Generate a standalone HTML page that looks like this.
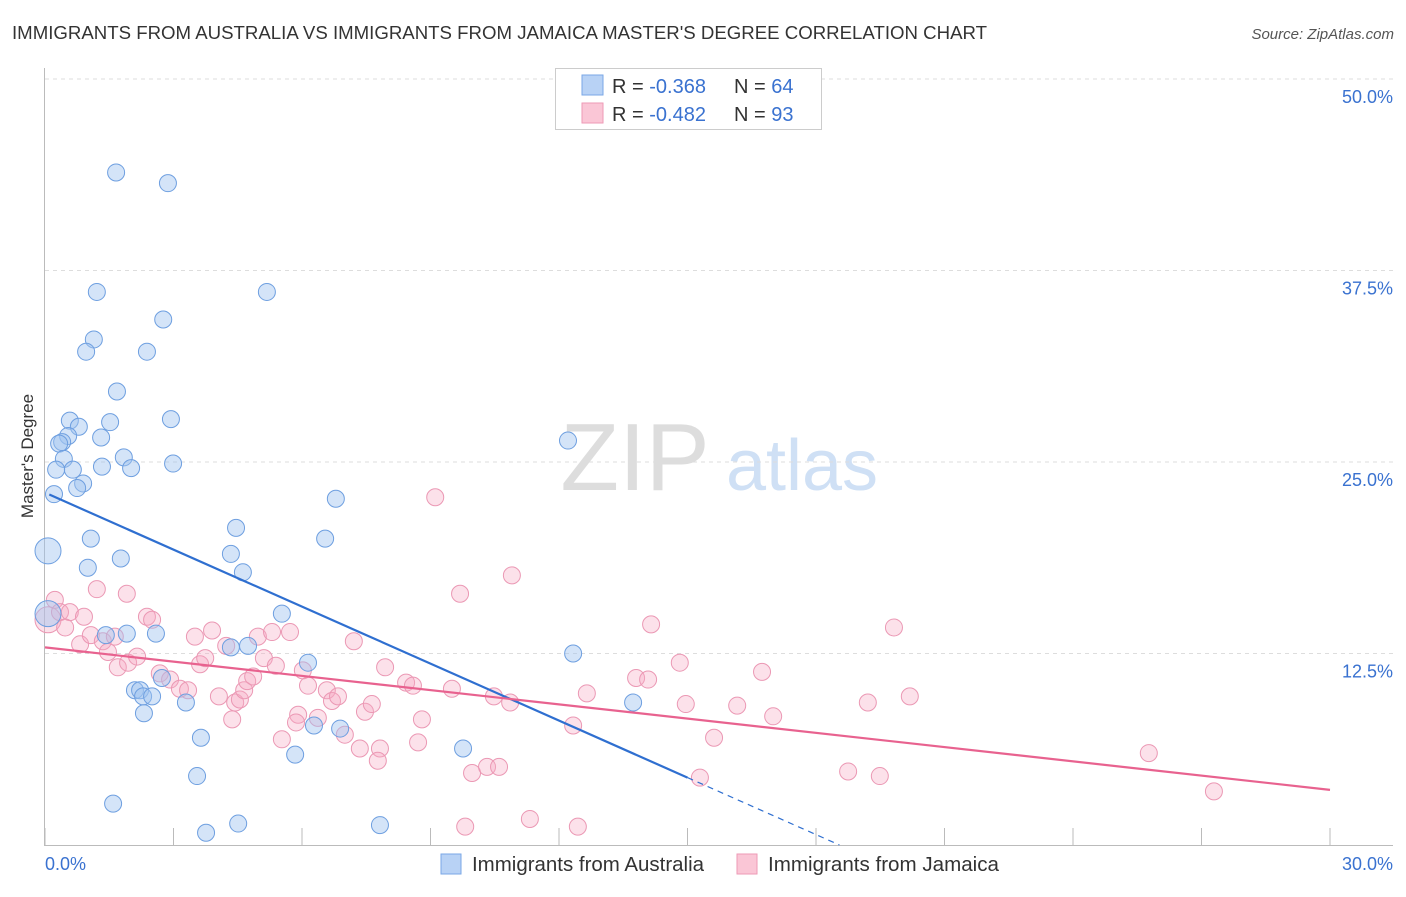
<!DOCTYPE html>
<html><head><meta charset="utf-8"><style>
body{margin:0;background:#fff;font-family:"Liberation Sans",sans-serif;}
svg text{font-family:"Liberation Sans",sans-serif;}
</style></head><body>
<svg id="c" width="1406" height="892">
<text x="12" y="39" font-size="18" fill="#333" textLength="975" lengthAdjust="spacingAndGlyphs">IMMIGRANTS FROM AUSTRALIA VS IMMIGRANTS FROM JAMAICA MASTER'S DEGREE CORRELATION CHART</text>
<text x="1394" y="39" font-size="15" fill="#555" font-style="italic" text-anchor="end">Source: ZipAtlas.com</text>
<text x="33" y="456" font-size="17" fill="#333" text-anchor="middle" transform="rotate(-90 33 456)">Master's Degree</text>
<g><text x="635" y="490" font-size="96" fill="#ddd" font-family="Liberation Serif" text-anchor="middle">ZIP</text><text x="802" y="490" font-size="72" fill="#cfe0f5" text-anchor="middle">atlas</text></g>
<g id="grid"></g><g id="marks"></g>
<g>
<rect x="555.5" y="68.5" width="266" height="61" fill="#fff" stroke="#ccc"/>
<rect x="582" y="75" width="21" height="20" fill="#b8d2f5" stroke="#7aa7e6"/>
<rect x="582" y="103" width="21" height="20" fill="#fac6d6" stroke="#ee9ab6"/>
<text x="612" y="93" font-size="20" fill="#333">R = <tspan fill="#3a72d0">-0.368</tspan></text>
<text x="734" y="93" font-size="20" fill="#333">N = <tspan fill="#3a72d0">64</tspan></text>
<text x="612" y="121" font-size="20" fill="#333">R = <tspan fill="#3a72d0">-0.482</tspan></text>
<text x="734" y="121" font-size="20" fill="#333">N = <tspan fill="#3a72d0">93</tspan></text>
</g>
<g>
<rect x="441" y="854" width="20" height="20" fill="#b8d2f5" stroke="#7aa7e6"/>
<text x="472" y="871" font-size="20" fill="#333" textLength="232" lengthAdjust="spacingAndGlyphs">Immigrants from Australia</text>
<rect x="737" y="854" width="20" height="20" fill="#fac6d6" stroke="#ee9ab6"/>
<text x="768" y="871" font-size="20" fill="#333" textLength="231" lengthAdjust="spacingAndGlyphs">Immigrants from Jamaica</text>
</g>
</svg>
<script>
const xTicks=[0,3,6,9,12,15,18,21,24,27,30];
const yTicks=[12.5,25,37.5,50];
const yTickLabels=["12.5%","25.0%","37.5%","50.0%"];
const xEndLabels=["0.0%","30.0%"];
const ausX=[1.66,2.87,1.21,5.18,2.76,1.14,0.96,2.38,1.68,2.94,0.58,1.52,0.79,0.54,1.31,0.40,0.33,1.84,0.44,2.99,1.33,0.65,2.01,0.26,0.89,0.75,0.21,6.79,12.21,4.46,1.07,6.54,0.07,4.34,1.77,1.0,4.62,5.53,1.91,2.59,1.42,4.74,4.34,6.14,12.33,2.73,2.10,2.22,2.29,2.50,3.29,13.73,2.31,6.89,6.28,3.64,9.76,5.84,3.55,1.59,4.51,3.76,7.82,0.07];
const ausY=[43.9,43.2,36.1,36.1,34.3,33.0,32.2,32.2,29.6,27.8,27.7,27.6,27.3,26.7,26.6,26.3,26.2,25.3,25.2,24.9,24.7,24.5,24.6,24.5,23.6,23.3,22.9,22.6,26.4,20.7,20.0,20.0,19.2,19.0,18.7,18.1,17.8,15.1,13.8,13.8,13.7,13.0,12.9,11.9,12.5,10.9,10.1,10.1,9.7,9.7,9.3,9.3,8.6,7.6,7.8,7.0,6.3,5.9,4.5,2.7,1.4,0.8,1.3,15.1];
const jamX=[0.07,0.23,0.35,0.58,0.47,0.91,1.21,1.91,0.82,1.07,1.35,1.47,1.63,1.70,1.94,2.15,2.38,2.50,2.68,2.92,3.15,3.34,3.50,3.62,3.74,3.90,4.06,4.23,4.37,4.44,4.55,4.65,4.72,4.86,4.97,5.11,5.30,5.39,5.72,5.53,5.91,6.02,6.14,5.86,6.37,6.58,6.70,6.84,7.00,7.21,7.35,7.47,7.63,7.82,7.77,7.94,8.43,8.59,8.71,8.80,9.11,9.50,9.69,9.81,9.97,10.32,10.60,10.90,10.48,10.86,11.32,12.33,12.44,12.65,13.80,14.08,14.15,14.82,14.96,15.29,15.62,16.16,16.74,17.00,18.75,19.21,19.49,19.82,20.19,25.77,27.29];
const jamY=[14.7,16.0,15.2,15.2,14.2,14.9,16.7,16.4,13.1,13.7,13.3,12.6,13.6,11.6,11.9,12.3,14.9,14.7,11.2,10.8,10.2,10.1,13.6,11.8,12.2,14.0,9.7,13.0,8.2,9.3,9.5,10.1,10.7,11.0,13.6,12.2,13.9,11.7,13.9,6.9,8.5,11.4,10.4,8.0,8.3,10.1,9.4,9.7,7.2,13.3,6.3,8.7,9.2,6.3,5.5,11.6,10.6,10.4,6.7,8.2,22.7,10.2,16.4,1.2,4.7,5.1,5.1,17.6,9.7,9.3,1.7,7.8,1.2,9.9,10.9,10.8,14.4,11.9,9.2,4.4,7.0,9.1,11.3,8.4,4.8,9.3,4.5,14.2,9.7,6.0,3.5];
const ausTrend=[23.0,-1.24];  // intercept, slope
const jamTrend=[12.9,-0.31];
const X=v=>45+v/30*1285, Y=v=>845-v*15.32;
const NS="http://www.w3.org/2000/svg";
function mk(parent,tag,attrs){const e=document.createElementNS(NS,tag);for(const k in attrs)e.setAttribute(k,attrs[k]);parent.appendChild(e);return e;}
const g=document.getElementById('grid'), m=document.getElementById('marks');
yTicks.forEach((t,i)=>{
 const l=mk(g,'line',{x1:45,x2:1393,y1:Y(t),y2:Y(t),stroke:'#ddd','stroke-dasharray':'4,4'});
 
 
 const tx=mk(g,'text',{x:1393,y:Y(t)+24,'font-size':18,fill:'#3a72d0','text-anchor':'end'});
 tx.textContent=yTickLabels[i];
 
 
});
const ax=mk(g,'line',{x1:44.5,x2:44.5,y1:68,y2:845.5,stroke:'#bbb'});


const bx=mk(g,'line',{x1:44,x2:1393,y1:845.5,y2:845.5,stroke:'#bbb'});


xTicks.forEach(t=>{const l=mk(g,'line',{x1:X(t),x2:X(t),y1:828,y2:845,stroke:'#bbb'});
 
 });
[[0,'start',45],[30,'end',1393]].forEach((d,i)=>{const t=mk(g,'text',{x:d[2],y:870,'font-size':18,fill:'#3a72d0','text-anchor':d[1]});t.textContent=xEndLabels[i];
 
 });
function dots(xs,ys,fill,stroke,name){xs.forEach((x,i)=>{
 const big=(x<0.1);
 const c=mk(m,'circle',{cx:X(x),cy:Y(ys[i]),r:big?13:8.5,fill:fill,stroke:stroke,'stroke-width':1});
 
 });}
dots(jamX,jamY,'rgba(246,170,196,0.35)','#eb98b4','jamaica-point');
dots(ausX,ausY,'rgba(160,196,240,0.45)','#6e9fe0','australia-point');
const bEnd=15, bZero=-ausTrend[0]/ausTrend[1];
const l1=mk(m,'line',{x1:X(0.1),y1:Y(ausTrend[0]+ausTrend[1]*0.1),x2:X(bEnd),y2:Y(ausTrend[0]+ausTrend[1]*bEnd),stroke:'#2f6fd0','stroke-width':2.2});


const l2=mk(m,'line',{x1:X(bEnd),y1:Y(ausTrend[0]+ausTrend[1]*bEnd),x2:X(bZero),y2:Y(0),stroke:'#2f6fd0','stroke-width':1.2,'stroke-dasharray':'6,5'});


const l3=mk(m,'line',{x1:X(0),y1:Y(jamTrend[0]),x2:X(30),y2:Y(jamTrend[0]+jamTrend[1]*30),stroke:'#e8628f','stroke-width':2.2});


</script>
</body></html>
